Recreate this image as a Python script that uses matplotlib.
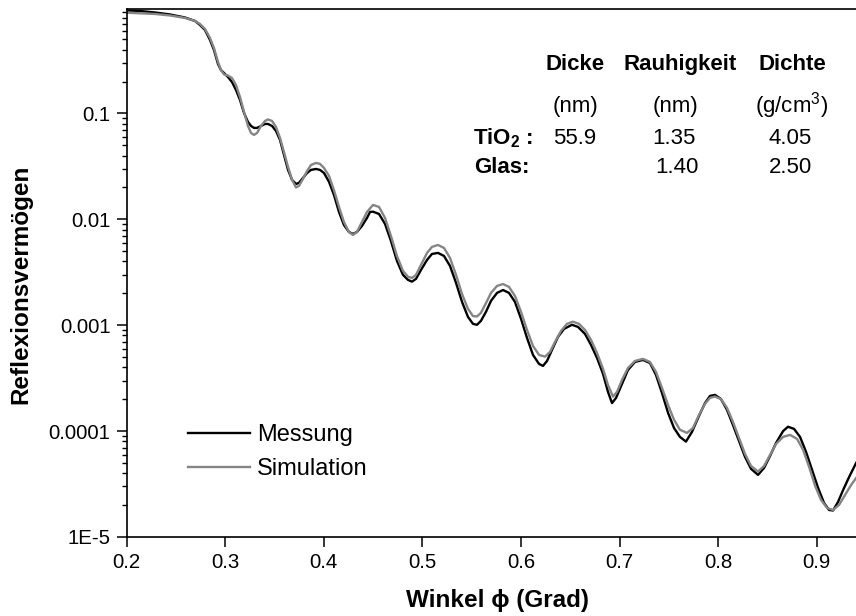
import matplotlib
matplotlib.use("Agg")
import matplotlib.pyplot as plt
from matplotlib.ticker import FixedLocator, FixedFormatter, LogLocator, NullFormatter, NullLocator

plt.rcParams['font.family'] = ['Liberation Sans', 'DejaVu Sans']
plt.rcParams['mathtext.fontset'] = 'custom'
plt.rcParams['mathtext.rm'] = 'Liberation Sans'
plt.rcParams['mathtext.bf'] = 'Liberation Sans:bold'

# ---------- data ----------
# Messung (measured reflectivity)
mess_x = [0.200, 0.2137, 0.2289, 0.2441, 0.2593, 0.2695, 0.2745, 0.2796, 0.2847, 0.2887,
          0.2928, 0.2958, 0.2989, 0.3029, 0.3070, 0.3110, 0.3151, 0.3192, 0.3232, 0.3263,
          0.3293, 0.3324, 0.3364, 0.3405, 0.3435, 0.3476, 0.3516, 0.3557, 0.3597, 0.3638,
          0.3679, 0.3719, 0.3749, 0.3790, 0.3831, 0.3871, 0.3922, 0.3962, 0.4003, 0.4054,
          0.4104, 0.4155, 0.4205, 0.4256, 0.4297, 0.4337, 0.4388, 0.4439, 0.4470, 0.4500,
          0.4561, 0.4622, 0.4682, 0.4743, 0.4804, 0.4855, 0.4895, 0.4936, 0.4987, 0.5048,
          0.5098, 0.5159, 0.5220, 0.5281, 0.5342, 0.5403, 0.5463, 0.5514, 0.5555, 0.5595,
          0.5646, 0.5697, 0.5758, 0.5819, 0.5879, 0.5940, 0.6001, 0.6062, 0.6123, 0.6184,
          0.6224, 0.6265, 0.6315, 0.6376, 0.6437, 0.6518, 0.6579, 0.6650, 0.6711, 0.6772,
          0.6833, 0.6883, 0.6924, 0.6965, 0.7025, 0.7086, 0.7157, 0.7238, 0.7309, 0.7370,
          0.7431, 0.7492, 0.7553, 0.7613, 0.7674, 0.7735, 0.7806, 0.7867, 0.7918, 0.7968,
          0.8029, 0.8090, 0.8151, 0.8212, 0.8273, 0.8334, 0.8405, 0.8466, 0.8527, 0.8588,
          0.8659, 0.8709, 0.8770, 0.8831, 0.8892, 0.8953, 0.9014, 0.9074, 0.9125, 0.9166,
          0.9217, 0.9268, 0.9329, 0.9400]
mess_r = [0.939, 0.929, 0.899, 0.861, 0.806, 0.747, 0.685, 0.614, 0.494, 0.398,
          0.293, 0.257, 0.241, 0.221, 0.198, 0.167, 0.134, 0.101, 0.0831, 0.0762,
          0.0730, 0.0730, 0.0762, 0.0796, 0.0796, 0.0762, 0.0684, 0.0562, 0.0406, 0.0293,
          0.0236, 0.0216, 0.0221, 0.0246, 0.0274, 0.0293, 0.0299, 0.0293, 0.0274, 0.0226,
          0.0170, 0.01174, 0.00885, 0.00760, 0.00728, 0.00760, 0.00866, 0.01031, 0.01174, 0.01182,
          0.01124, 0.00905, 0.00625, 0.00405, 0.00299, 0.00268, 0.00258, 0.00274, 0.00333, 0.00414,
          0.00471, 0.00482, 0.00451, 0.00363, 0.00251, 0.00166, 0.00120, 0.00103, 0.00101, 0.00110,
          0.00134, 0.00170, 0.00202, 0.00215, 0.00202, 0.00166, 0.00115, 0.000759, 0.000524, 0.000431,
          0.000413, 0.000460, 0.000584, 0.000775, 0.000923, 0.00101, 0.000964, 0.000828, 0.000652, 0.000491,
          0.000347, 0.000235, 0.000184, 0.000206, 0.000279, 0.000378, 0.000450, 0.000470, 0.000440, 0.000339,
          0.000229, 0.000149, 0.000107, 0.0000882, 0.0000796, 0.0000983, 0.000139, 0.000184, 0.000215, 0.000220,
          0.000201, 0.000159, 0.000114, 0.0000808, 0.0000571, 0.0000440, 0.0000386, 0.0000449, 0.0000583, 0.0000774,
          0.000100, 0.000110, 0.000105, 0.0000882, 0.0000636, 0.0000430, 0.0000291, 0.0000210, 0.0000180, 0.0000178,
          0.0000215, 0.0000278, 0.0000369, 0.0000501]

# Simulation
sim_x = [0.200, 0.2137, 0.2289, 0.2441, 0.2593, 0.2695, 0.2745, 0.2796, 0.2847, 0.2887,
         0.2928, 0.2958, 0.2989, 0.3029, 0.3070, 0.3110, 0.3151, 0.3192, 0.3232, 0.3263,
         0.3293, 0.3324, 0.3364, 0.3405, 0.3435, 0.3476, 0.3516, 0.3557, 0.3597, 0.3638,
         0.3679, 0.3719, 0.3749, 0.3790, 0.3831, 0.3871, 0.3922, 0.3962, 0.4003, 0.4054,
         0.4104, 0.4155, 0.4205, 0.4256, 0.4297, 0.4337, 0.4388, 0.4439, 0.4500, 0.4561,
         0.4622, 0.4682, 0.4743, 0.4804, 0.4855, 0.4895, 0.4936, 0.4987, 0.5048, 0.5098,
         0.5159, 0.5220, 0.5281, 0.5342, 0.5403, 0.5463, 0.5514, 0.5555, 0.5595, 0.5646,
         0.5697, 0.5758, 0.5819, 0.5879, 0.5940, 0.6001, 0.6062, 0.6123, 0.6184, 0.6245,
         0.6295, 0.6346, 0.6407, 0.6467, 0.6528, 0.6589, 0.6650, 0.6711, 0.6772, 0.6833,
         0.6883, 0.6934, 0.6975, 0.7025, 0.7086, 0.7157, 0.7238, 0.7309, 0.7370, 0.7431,
         0.7492, 0.7553, 0.7613, 0.7684, 0.7745, 0.7806, 0.7867, 0.7918, 0.7968, 0.8029,
         0.8090, 0.8151, 0.8212, 0.8273, 0.8334, 0.8405, 0.8466, 0.8527, 0.8588, 0.8659,
         0.8730, 0.8801, 0.8862, 0.8923, 0.8984, 0.9044, 0.9105, 0.9166, 0.9227, 0.9288,
         0.9349, 0.9400]
sim_r = [0.895, 0.884, 0.870, 0.842, 0.798, 0.747, 0.700, 0.628, 0.516, 0.415,
         0.306, 0.257, 0.234, 0.228, 0.216, 0.186, 0.143, 0.103, 0.0762, 0.0654,
         0.0627, 0.0654, 0.0762, 0.0850, 0.0878, 0.0850, 0.0746, 0.0587, 0.0433, 0.0313,
         0.0236, 0.0200, 0.0207, 0.0241, 0.0286, 0.0326, 0.0341, 0.0334, 0.0306, 0.0257,
         0.0189, 0.0131, 0.00945, 0.00760, 0.00712, 0.00760, 0.00945, 0.01174, 0.01368, 0.0131,
         0.01031, 0.00697, 0.00451, 0.00326, 0.00286, 0.00280, 0.00299, 0.00371, 0.00482, 0.00549,
         0.00573, 0.00537, 0.00432, 0.00299, 0.00197, 0.00143, 0.00122, 0.00121, 0.00131, 0.00162,
         0.00202, 0.00235, 0.00245, 0.00230, 0.00189, 0.00134, 0.000903, 0.000637, 0.000524, 0.000505,
         0.000560, 0.000696, 0.000884, 0.00103, 0.00108, 0.00103, 0.000903, 0.000727, 0.000547, 0.000387,
         0.000273, 0.000212, 0.000235, 0.000304, 0.000395, 0.000460, 0.000481, 0.000450, 0.000362, 0.000256,
         0.000177, 0.000128, 0.000103, 0.0000962, 0.000107, 0.000142, 0.000181, 0.000206, 0.000212, 0.000201,
         0.000166, 0.000122, 0.0000862, 0.0000609, 0.0000469, 0.0000415, 0.0000469, 0.0000596, 0.0000757, 0.0000882,
         0.0000921, 0.0000844, 0.0000665, 0.0000459, 0.0000304, 0.0000224, 0.0000188, 0.0000180, 0.0000201, 0.0000250,
         0.0000310, 0.0000361]

x_ticks = [0.2, 0.3, 0.4, 0.5, 0.6, 0.7, 0.8, 0.9]
x_tick_labels = ['0.2', '0.3', '0.4', '0.5', '0.6', '0.7', '0.8', '0.9']
y_ticks = [1e-5, 1e-4, 1e-3, 1e-2, 1e-1]
y_tick_labels = ['1E-5', '0.0001', '0.001', '0.01', '0.1']

# parameter table
col_heads = ['Dicke', 'Rauhigkeit', 'Dichte']
col_units = ['(nm)', '(nm)', '(g/cm$^3$)']
tio2_vals = ['55.9', '1.35', '4.05']
glas_vals = ['1.40', '2.50']

# ---------- plot ----------
W, H = 856, 616
fig = plt.figure(figsize=(W / 100, H / 100), dpi=100)
ax = fig.add_axes([126.5 / W, 79 / H, 739.5 / W, 528.5 / H])

ax.plot(mess_x, mess_r, color='black', lw=1.7, label='Messung')
ax.plot(sim_x, sim_r, color='#858585', lw=1.7, label='Simulation')

ax.set_yscale('log')
ax.set_xlim(0.2, 0.95)
ax.set_ylim(1e-5, 0.98)

ax.xaxis.set_major_locator(FixedLocator(x_ticks))
ax.xaxis.set_major_formatter(FixedFormatter(x_tick_labels))
ax.xaxis.set_minor_locator(NullLocator())
ax.yaxis.set_major_locator(FixedLocator(y_ticks))
ax.yaxis.set_major_formatter(FixedFormatter(y_tick_labels))
ax.yaxis.set_minor_locator(LogLocator(base=10, subs=range(2, 10), numticks=20))
ax.yaxis.set_minor_formatter(NullFormatter())

ax.tick_params(which='major', direction='out', length=7, width=1.1,
               labelsize=14.7, pad=4.5, top=False, right=False)
ax.tick_params(which='minor', direction='out', length=3.5, width=1.0, right=False)
for s in ['left', 'bottom', 'top']:
    ax.spines[s].set_linewidth(1.2)
ax.spines['right'].set_visible(False)

# axis titles
fig.text(497 / W, 1 - 606.5 / H, 'Winkel \u03d5 (Grad)', ha='center', va='baseline',
         fontsize=17.5, fontweight='bold')
fig.text(27 / W, 1 - 284 / H, 'Reflexionsvermögen', ha='center', va='baseline',
         rotation=90, rotation_mode='anchor', fontsize=17.5, fontweight='bold')

ax.legend(loc='upper left', bbox_to_anchor=(188 / W, 1 - 424 / H),
          bbox_transform=fig.transFigure, frameon=False, fontsize=17,
          handlelength=2.63, handletextpad=0.28, labelspacing=0.5,
          borderpad=0, borderaxespad=0)

# table of fit parameters
for cx, t in zip([575, 680, 792], col_heads):
    fig.text(cx / W, 1 - 70 / H, t, ha='center', va='baseline', fontsize=16, fontweight='bold')
for cx, t in zip([575, 675, 792], col_units):
    fig.text(cx / W, 1 - 112 / H, t, ha='center', va='baseline', fontsize=16)
fig.text(473 / W, 1 - 144 / H, r'TiO$_\mathbf{2}$ :', ha='left', va='baseline',
         fontsize=16, fontweight='bold')
for cx, t in zip([574.5, 673.5, 790], tio2_vals):
    fig.text(cx / W, 1 - 144 / H, t, ha='center', va='baseline', fontsize=16)
fig.text(474 / W, 1 - 173 / H, 'Glas:', ha='left', va='baseline', fontsize=16, fontweight='bold')
for cx, t in zip([676.5, 790], glas_vals):
    fig.text(cx / W, 1 - 173 / H, t, ha='center', va='baseline', fontsize=16)

fig.savefig('out.png', dpi=100)
